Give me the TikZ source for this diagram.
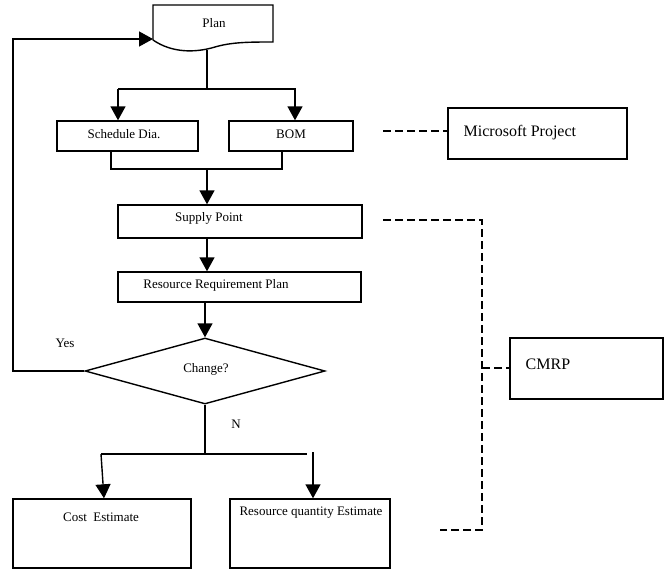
\documentclass[tikz,border=0pt]{standalone}
\usepackage{fontspec}
\setmainfont{Liberation Serif}
\usetikzlibrary{shapes.geometric,arrows.meta}
\begin{document}
\begin{tikzpicture}[x=1pt,y=-1pt,line width=1.4pt,
  box/.style={draw,rectangle,inner sep=0pt},
  lbl/.style={inner sep=0pt,font=\fontsize{13}{15}\selectfont},
  biglbl/.style={inner sep=0pt,font=\fontsize{16}{18}\selectfont,anchor=west},
  arr/.style={-{Triangle[width=15pt,length=14pt]}},
  dsh/.style={dash pattern=on 8pt off 4pt,line width=1.4pt}]
\useasboundingbox (0,0) rectangle (671,571);

% Plan (document shape)
\draw (153,40) -- (153,5) -- (273,5) -- (273,42)
  .. controls (250,42) and (232,42) .. (215,47)
  .. controls (195,53) and (172,53) .. (153,40);
\node[lbl] (plan) at (214,23) {Plan};
\coordinate (planin) at (153,39);
\coordinate (planout) at (207,50);
\coordinate (fork1) at (207,89);

% boxes
\node[box,minimum width=141pt,minimum height=30pt] (sched) at (127.5,136) {};
\node[lbl] at (124,134) {Schedule Dia.};
\node[box,minimum width=124pt,minimum height=30pt] (bom) at (291,136) {};
\node[lbl] at (291,134) {BOM};
\node[box,minimum width=244pt,minimum height=33pt] (supply) at (240,221.5) {};
\node[lbl] at (209,218) {Supply Point};
\node[box,minimum width=243pt,minimum height=30pt] (rrp) at (239.5,287) {};
\node[lbl] at (216,285) {Resource Requirement Plan};
\node[draw,diamond,inner sep=0pt,minimum width=240pt,minimum height=66pt,aspect=3.6] (chg) at (205,371) {};
\node[lbl] at (206,369) {Change?};
\node[lbl] at (65,343) {Yes};
\node[lbl] at (236,424) {N};
\node[box,minimum width=178pt,minimum height=69pt] (cost) at (102,533.5) {};
\node[lbl] at (101,517) {Cost~ Estimate};
\node[box,minimum width=160pt,minimum height=69pt] (rqe) at (310,533.5) {};
\node[lbl] at (311,513) {Resource quantity Estimate};
\node[box,minimum width=179pt,minimum height=51pt] (ms) at (537.5,133.5) {};
\node[biglbl] at (463,133) {Microsoft Project};
\node[box,minimum width=153pt,minimum height=61pt] (cmrp) at (586.5,368.5) {};
\node[biglbl] at (525,364) {CMRP};

% Plan -> Schedule / BOM
\draw (planout) -- (fork1);
\draw (118,89) -- (295,89);
\draw[arr] (118,89) -- (sched.north -| 118,0);
\draw[arr] (295,88) -- (bom.north -| 295,0);

% Schedule/BOM -> Supply
\coordinate (join) at (207,169);
\draw (sched.south -| 111,0) |- (join) -| (bom.south -| 282,0);
\draw[arr] (join) -- (supply.north -| join);
\draw[arr] (supply.south -| 207,0) -- (rrp.north -| 207,0);
\draw[arr] (rrp.south -| chg.north) -- (chg.north);

% Yes loop
\draw[arr] (chg.west) -- (13,371) |- (planin);

% N branch
\coordinate (fork2) at (205,454);
\draw (chg.south) -- (fork2);
\draw (101,454) -- (307,454);
\draw[arr] (101,454) -- (cost.north -| 104,0);
\draw[arr] (313,452) -- (rqe.north -| 313,0);

% dashed links
\draw[dsh] (383,131) -- (ms.west |- 383,131);
\draw[dsh] (383,220) -- (482,220) -- (482,530) -- (440,530);
\draw[dsh] (482,368) -- (cmrp.west |- 482,368);
\end{tikzpicture}
\end{document}
